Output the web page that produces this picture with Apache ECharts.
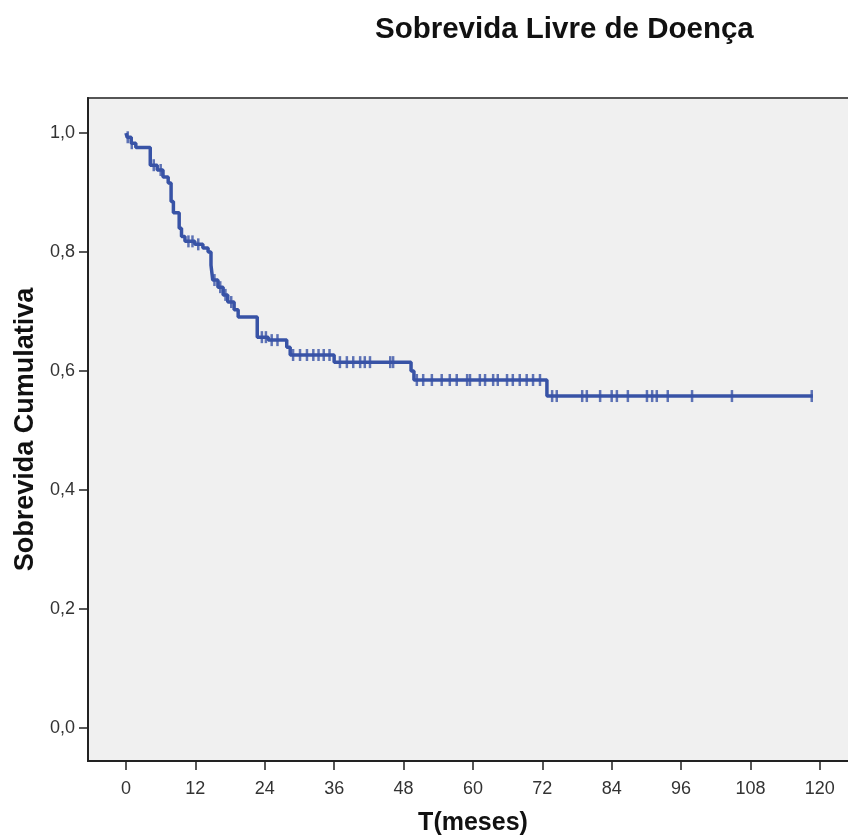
<!DOCTYPE html>
<html>
<head>
<meta charset="utf-8">
<script src="https://cdn.jsdelivr.net/npm/echarts@6/dist/echarts.min.js"></script>
<style>
  html, body { margin: 0; padding: 0; background: #fff; }
  #chart { width: 848px; height: 839px; }
</style>
</head>
<body>
<div id="chart"></div>
<script>
// curva de Kaplan-Meier: tempo (meses) e sobrevida depois de cada evento
const eventTimes = [0, 0.2, 0.9, 1.7, 4.2, 5.4, 6.4, 7.3, 7.8, 8.2, 9.2, 9.6, 10.2, 11.9, 13.3, 14.2, 14.7, 15.0, 15.9, 16.8, 17.6, 18.7, 19.4, 22.7, 24.6, 27.8, 28.4, 36.0, 49.3, 49.8, 72.8, 118.8];
const eventSurv  = [1.0, 0.993, 0.983, 0.976, 0.946, 0.938, 0.926, 0.916, 0.885, 0.866, 0.840, 0.826, 0.818, 0.813, 0.807, 0.800, 0.778, 0.753, 0.741, 0.728, 0.716, 0.703, 0.691, 0.657, 0.652, 0.640, 0.627, 0.615, 0.600, 0.585, 0.558, 0.558];

// observacoes censuradas (meses)
const censorTimes = [0.3, 1.0, 4.8, 6.0, 10.8, 11.5, 12.5, 15.3, 16.3, 17.2, 18.2, 23.5, 24.2, 25.2, 26.2,
  28.9, 30.1, 31.3, 32.4, 33.3, 34.2, 35.2,
  37.0, 38.2, 39.3, 40.5, 41.3, 42.2, 45.7, 46.2,
  50.3, 51.4, 52.9, 54.6, 56.0, 57.2, 59.0, 59.5, 61.2, 62.1, 63.5, 64.3, 65.9, 66.9, 68.1, 69.3, 70.4, 71.6,
  73.7, 74.5, 78.9, 79.7, 82.0, 84.0, 84.9, 86.8, 90.1, 91.0, 91.8, 93.7, 97.9, 104.8, 118.6];

const xTicks = [0, 12, 24, 36, 48, 60, 72, 84, 96, 108, 120];
const yTicks = [0, 0.2, 0.4, 0.6, 0.8, 1.0];

function survAt(t) {
  let s = eventSurv[0];
  for (let i = 0; i < eventTimes.length; i++) {
    if (eventTimes[i] <= t) s = eventSurv[i];
  }
  return s;
}

const curveData = eventTimes.map((t, i) => [t, eventSurv[i]]);
const censorData = censorTimes.map(t => [t, survAt(t)]);

const lineColor = "#3853a6";
const font = "Liberation Sans, Arial, sans-serif";

const myChart = echarts.init(document.getElementById("chart"));
const option = {
  backgroundColor: "#fff",
  animation: false,
  title: {
    text: "Sobrevida Livre de Doença",
    left: 370,
    top: 10,
    textStyle: { fontFamily: font, fontWeight: "bold", fontSize: 29.5, color: "#111" },
  },
  grid: {
    left: 88,
    right: -10,
    top: 98,
    bottom: 78,
    outerBoundsMode: "none",
    show: true,
    backgroundColor: "#f0f0f0",
    borderColor: "#555",
    borderWidth: 2,
  },
  xAxis: {
    type: "value",
    min: -6.57,
    max: 126.6,
    name: "T(meses)",
    nameLocation: "middle",
    nameGap: 50,
    nameTextStyle: { fontFamily: font, fontWeight: "bold", fontSize: 25, color: "#111" },
    splitLine: { show: false },
    axisLine: { onZero: false, lineStyle: { color: "#222", width: 2 } },
    axisTick: { show: true, length: 9, customValues: xTicks, lineStyle: { color: "#222", width: 1.5 } },
    axisLabel: {
      customValues: xTicks,
      margin: 19,
      fontFamily: font,
      fontSize: 18,
      color: "#333",
    },
  },
  yAxis: {
    type: "value",
    min: -0.0555,
    max: 1.059,
    name: "Sobrevida Cumulativa",
    nameLocation: "middle",
    nameGap: 47,
    nameTextStyle: { fontFamily: font, fontWeight: "bold", fontSize: 27, color: "#111" },
    splitLine: { show: false },
    axisLine: { show: true, onZero: false, lineStyle: { color: "#222", width: 2 } },
    axisTick: { show: true, length: 9, customValues: yTicks, lineStyle: { color: "#222", width: 1.5 } },
    axisLabel: {
      customValues: yTicks,
      margin: 13,
      fontFamily: font,
      fontSize: 18,
      color: "#333",
      formatter: v => v.toFixed(1).replace(".", ","),
    },
  },
  series: [
    {
      type: "line",
      step: "end",
      data: curveData,
      symbol: "none",
      lineStyle: { color: lineColor, width: 3.5 },
      z: 3,
    },
    {
      type: "scatter",
      data: censorData,
      symbol: "rect",
      symbolSize: [2.5, 12],
      itemStyle: { color: lineColor },
      z: 4,
    },
  ],
};
myChart.setOption(option);
window.addEventListener("resize", () => myChart.resize());
</script>
</body>
</html>
